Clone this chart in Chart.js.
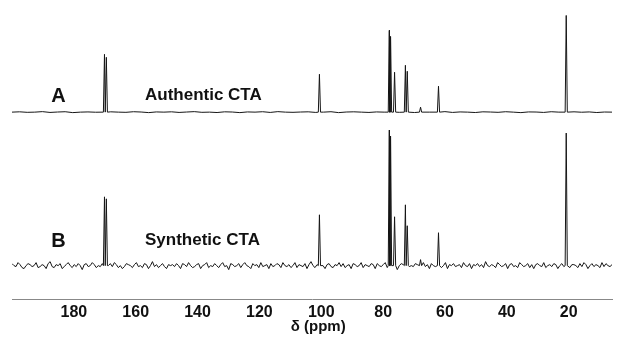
<!DOCTYPE html>
<html>
<head>
<meta charset="utf-8">
<script src="https://cdn.jsdelivr.net/npm/chart.js@4.4.1/dist/chart.umd.min.js"></script>
<style>
  html, body { margin: 0; padding: 0; background: #fff; }
  #wrap { width: 621px; height: 339px; }
</style>
</head>
<body>
<div id="wrap"><canvas id="nmr" width="621" height="339"></canvas></div>
<script>
// axis ticks (ppm)
const xTicks = [180, 160, 140, 120, 100, 80, 60, 40, 20];
const PPM_LEFT = 200;
const PPM_RIGHT = 6;

// peak positions (ppm) and heights
const peakPpm = [170.1, 169.5, 100.6, 78.0, 77.6, 76.3, 72.8, 72.2, 67.9, 62.1, 20.8];
const heightA = [58, 55, 38, 82, 76, 40, 47, 41, 5, 26, 97];
const heightB = [69, 67, 51, 136, 130, 49, 61, 40, 6, 33, 133];

// baseline levels
const baseA = 187.5;
const baseB = 33.5;

// baseline wiggle, left to right
const noiseA = [
  0, 0.3, -0.2, 0, 0.5, -0.3, 0.1, 0.4, -0.5, 0, 0.2, -0.1, -0.4, 0.3, 0, -0.2, 0.4, 0.1, -0.5, 0.2,
  0, 0.3, -0.3, 0.1, 0.5, -0.2, 0, -0.4, 0.3, 0.1, -0.5, 0.2, 0, 0.4, -0.3, 0.5, 0, -0.2, 0.1, 0.3,
  -0.3, 0, 0.4, -0.5, 0.1, 0.3, 0, -0.3, 0.2, 0, 0.4, -0.2, 0.1, -0.4, 0.3, 0, -0.1, 0.5, -0.3, 0.2,
  0, -0.4, 0.3, 0.1, -0.2, 0.4, 0, -0.5, 0.2, 0.1, -0.3, 0.4, 0, -0.2, 0.3, -0.1, 0.2, -0.4, 0.1, 0];
const noiseB = [
   2, 0,-1, 3, 1,-2,-3, 0, 2, 1,-1, 0, 3,-2,-1, 1, 0,-3, 2, 4,
  -1,-2, 1, 0, 2,-3,-1, 1, 3, 0,-2, 1,-1, 2, 0,-4, 1, 2,-1, 0,
   3, 1,-2, 0,-1, 2,-3, 1, 0, 2,-1, 3, 1,-2, 0,-3,-1, 2, 1, 0,
  -2, 1, 3,-1, 0,-2, 2, 1,-3, 0, 4,-1, 1,-2, 0, 2,-1,-3, 1, 0,
   1,-1, 2, 0,-3, 2, 1,-1, 3, 0,-2,-1, 1, 2,-3, 0, 1, 3,-2, 0,
  -1, 2, 0,-2, 1, 3,-1, 0,-4, 2, 1,-1, 0, 2,-2, 1, 3, 0,-1,-3,
   2, 0, 1,-2, 3,-1, 0, 1,-3, 2,-1, 0, 2, 1,-2, 3, 0,-1, 1,-2,
   0, 3,-2, 1, 0,-1, 2,-3, 1, 4, 0,-2, 1,-1, 2, 0,-3, 1, 2,-1,
  -2, 1, 0, 3,-1, 2,-2, 0, 1,-3, 2, 1,-1, 0, 3,-2, 1, 0,-1, 2,
   1,-3, 2, 0,-1, 1, 3,-2, 0, 2,-1, 1,-4, 0, 2, 1,-2, 3,-1, 0,
  -1, 2, 1,-2, 0, 3,-1, 1,-3, 2, 0,-1, 2, 1,-2, 0, 3,-3, 1, 0,
   2,-1, 0, 1,-2, 3, 0,-1, 2,-3, 1, 0, 2,-1, 1,-2, 4, 0,-1, 1,
   0,-2, 3, 1,-1, 0, 2,-3, 1, 2,-1, 0,-2, 3, 1,-1, 0, 2,-2, 1,
  -3, 1, 2, 0,-1, 3,-2, 0, 1,-1, 2, 1,-3, 0, 2,-1, 3, 0,-2, 1,
   1, 0,-2, 2,-1, 3, 1,-3, 0, 2,-1, 1, 0,-2, 3,-1, 2, 0,-1, 1];

function buildSpectrum(base, heights, noise) {
  const pts = [];
  const n = noise.length;
  const halfW = 0.35;
  for (let i = 0; i < n; i++) {
    const ppm = PPM_LEFT - i * (PPM_LEFT - PPM_RIGHT) / (n - 1);
    if (peakPpm.some(p => Math.abs(p - ppm) < 0.6)) continue;
    pts.push({ x: ppm, y: base + noise[i] });
  }
  peakPpm.forEach((p, k) => {
    pts.push({ x: p + halfW, y: base });
    pts.push({ x: p, y: base + heights[k] });
    pts.push({ x: p - halfW, y: base });
  });
  pts.sort((a, b) => b.x - a.x);
  return pts;
}

// labels A / B and the axis title
const labelPlugin = {
  id: "labels",
  afterDraw(chart) {
    const { ctx, scales: { x, y } } = chart;
    ctx.save();
    ctx.fillStyle = "#111";
    ctx.textBaseline = "middle";
    ctx.textAlign = "center";
    ctx.font = "bold 20px 'Liberation Sans', Arial, sans-serif";
    ctx.fillText("A", x.getPixelForValue(185), y.getPixelForValue(203));
    ctx.fillText("B", x.getPixelForValue(185), y.getPixelForValue(58));
    ctx.font = "bold 15px 'Liberation Sans', Arial, sans-serif";
    ctx.fillText("δ (ppm)", x.getPixelForValue(101), 327);
    ctx.textAlign = "left";
    ctx.font = "bold 17px 'Liberation Sans', Arial, sans-serif";
    ctx.fillText("Authentic CTA", x.getPixelForValue(157), y.getPixelForValue(204));
    ctx.fillText("Synthetic CTA", x.getPixelForValue(157), y.getPixelForValue(59));
    ctx.restore();
  }
};

new Chart(document.getElementById("nmr"), {
  type: "line",
  data: {
    datasets: [
      { data: buildSpectrum(baseA, heightA, noiseA), borderColor: "#151515", borderWidth: 1, pointRadius: 0, tension: 0 },
      { data: buildSpectrum(baseB, heightB, noiseB), borderColor: "#151515", borderWidth: 1, pointRadius: 0, tension: 0 }
    ]
  },
  options: {
    responsive: false,
    animation: false,
    layout: { padding: { left: 12, right: 9, top: 0, bottom: 12 } },
    plugins: { legend: { display: false }, tooltip: { enabled: false } },
    scales: {
      x: {
        type: "linear",
        reverse: true,
        min: PPM_RIGHT,
        max: PPM_LEFT,
        afterBuildTicks: s => { s.ticks = xTicks.map(v => ({ value: v })); },
        grid: { display: false, drawTicks: false },
        border: { display: true, color: "#888", width: 1 },
        ticks: {
          color: "#111",
          padding: 6,
          maxRotation: 0,
          autoSkip: false,
          font: { family: "'Liberation Sans', Arial, sans-serif", size: 16, weight: "bold", lineHeight: 1 }
        },
        title: { display: false }
      },
      y: { display: false, min: 0, max: 300 }
    }
  },
  plugins: [labelPlugin]
});
</script>
</body>
</html>
